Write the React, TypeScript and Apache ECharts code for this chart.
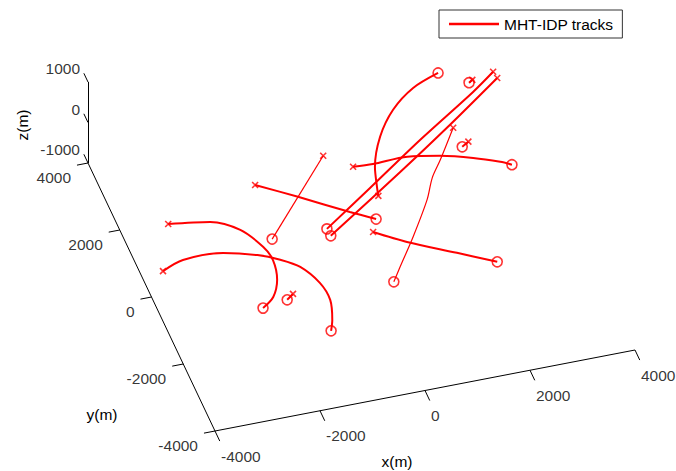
import React, { useEffect, useRef } from "react";
import * as echarts from "echarts";

// ---------- data ----------
const xTicks = [-4000, -2000, 0, 2000, 4000];
const yTicks = [-4000, -2000, 0, 2000, 4000];
const zTicks = [-1000, 0, 1000];
const xName = "x(m)";
const yName = "y(m)";
const zName = "z(m)";
const legendName = "MHT-IDP tracks";

type P3 = [number, number, number];
// tracks in metres [x, y, z], first point = start (x marker), last = end (o marker)
const track1: P3[] = [[-3440, 800, 0], [-2690, 635, 0], [-2230, 260, 0], [-1970, -330, 0], [-1910, -740, 0], [-2000, -1300, 0], [-2210, -1750, 0], [-2480, -2000, 0]];
const track2: P3[] = [[-3920, -460, 0], [-3480, -260, 0], [-2720, -280, 0], [-2140, -520, 0], [-1780, -770, 0], [-1490, -1070, 0], [-1280, -1610, 0], [-1240, -2130, 0], [-1370, -2690, 0], [-1480, -2980, 0]];
const track3: P3[] = [[-1840, -1770, 0], [-1990, -1900, 0]];
const track4: P3[] = [[-170, 1850, 0], [-1750, -160, 0]];
const track5: P3[] = [[-1600, 1410, 0], [-950, 860, 0], [-170, 170, 0], [230, -160, 0]];
const track6: P3[] = [[260, 1390, 0], [630, 1360, 0], [1290, 1380, 0], [1870, 1230, 0], [2430, 1000, 0], [2870, 750, 0], [3050, 610, 0]];
const track7: P3[] = [[460, 460, 0], [510, 710, 0], [640, 1270, 0], [980, 2070, 0], [1430, 2740, 0], [1960, 3230, 0], [2520, 3510, 0]];
const track8: P3[] = [[3490, 3250, 0], [2980, 2810, 0], [1650, 1770, 0], [380, 720, 0], [-710, -170, 0]];
const track9: P3[] = [[3510, 3060, 0], [2300, 2030, 0], [1040, 1000, 0], [-700, -380, 0]];
const track10: P3[] = [[3060, 3140, 0], [2980, 3080, 0]];
const track11: P3[] = [[2480, 1470, 0], [2330, 1360, 0]];
const track12: P3[] = [[2330, 1930, 0], [1840, 1120, 0], [1550, 670, 0], [1280, 100, 0], [730, -840, 0], [250, -1600, 0], [20, -1970, 0]];
const track13: P3[] = [[70, -500, 0], [580, -950, 0], [1360, -1510, 0], [1990, -1970, 0]];

const tracks = [track1, track2, track3, track4, track5, track6, track7, track8, track9, track10, track11, track12, track13];
const thinTracks = [3, 11];

// ---------- layout / projection ----------
const W = 676;
const H = 471;
const FONT = "'Liberation Sans', Arial, Helvetica, sans-serif";
const FS = 15.5;
const XMIN = -4000, XMAX = 4000, YMIN = -4000, YMAX = 4000, ZMIN = -1000, ZMAX = 1000;
const ORIGIN = [215, 431];
const EX = [420 / 8000, -81 / 8000];
const EY = [-127 / 8000, -268 / 8000];
const EZ = [0, -81 / 2000];

function proj(x: number, y: number, z: number): [number, number] {
  const a = x - XMIN, b = y - YMIN, c = z - ZMIN;
  return [
    ORIGIN[0] + EX[0] * a + EY[0] * b + EZ[0] * c,
    ORIGIN[1] + EX[1] * a + EY[1] * b + EZ[1] * c,
  ];
}

export default function App() {
  const ref = useRef<HTMLDivElement>(null);
  useEffect(() => {
    if (!ref.current) return;
    const chart = echarts.init(ref.current, undefined, { renderer: "svg" });

    const segments: [number, number][][] = [
      [proj(XMIN, YMIN, ZMIN), proj(XMAX, YMIN, ZMIN)],
      [proj(XMIN, YMIN, ZMIN), proj(XMIN, YMAX, ZMIN)],
      [proj(XMIN, YMAX, ZMIN), proj(XMIN, YMAX, ZMAX)],
      ...xTicks.map((t) => [proj(t, YMIN, ZMIN), proj(t, YMIN - 300, ZMIN)]),
      ...yTicks.map((t) => [proj(XMIN, t, ZMIN), proj(XMIN - 210, t, ZMIN)]),
      ...zTicks.map((t) => [proj(XMIN, YMAX, t), proj(XMIN, YMAX + 260, t)]),
    ];

    const labelSeries = (data: any[], offset: number[], align: string) => ({
      type: "scatter",
      silent: true,
      symbolSize: 1,
      itemStyle: { color: "transparent" },
      data,
      label: {
        show: true,
        position: "inside",
        offset,
        align,
        verticalAlign: "middle",
        formatter: (p: any) => p.value[2],
        fontSize: FS,
        fontFamily: FONT,
        color: "#000",
      },
      z: 5,
    });

    const trackSeries = tracks.map((t, i) => ({
      type: "line",
      name: legendName,
      data: t.map((p) => proj(p[0], p[1], p[2])),
      symbol: "none",
      smooth: 0.3,
      silent: true,
      lineStyle: { color: "#ff0000", width: thinTracks.includes(i) ? 1.2 : 2 },
      itemStyle: { color: "#ff0000" },
      z: 3,
    }));

    chart.setOption({
      animation: false,
      backgroundColor: "#fff",
      grid: { left: 0, top: 0, right: 0, bottom: 0 },
      xAxis: { type: "value", min: 0, max: W, show: false },
      yAxis: { type: "value", min: 0, max: H, inverse: true, show: false },
      legend: {
        data: [legendName],
        left: 439,
        top: 10,
        padding: [6, 9, 6, 10],
        itemWidth: 50,
        itemHeight: 14,
        itemGap: 5,
        icon: "path://M0 0H50V2.4H0Z",
        borderColor: "#333",
        borderWidth: 1,
        backgroundColor: "#fff",
        selectedMode: false,
        itemStyle: { color: "#ff0000" },
        textStyle: { fontSize: FS, fontFamily: FONT, color: "#000" },
      },
      series: [
        {
          type: "lines",
          coordinateSystem: "cartesian2d",
          silent: true,
          polyline: false,
          lineStyle: { color: "#000", width: 1, opacity: 1 },
          data: segments.map((s) => ({ coords: s })),
          z: 2,
        },
        labelSeries(xTicks.map((t) => [...proj(t, YMIN, ZMIN), String(t)]), [6, 25], "left"),
        labelSeries(yTicks.map((t) => [...proj(XMIN, t, ZMIN), String(t)]), [-17, 14], "right"),
        labelSeries(zTicks.map((t) => [...proj(XMIN, YMAX, t), String(t)]), [-8, -13.5], "right"),
        ...trackSeries,
        {
          type: "scatter",
          name: "start",
          silent: true,
          symbol: "path://M0 0L10 10M10 0L0 10",
          symbolSize: 6,
          itemStyle: { color: "transparent", borderColor: "#ff0000", borderWidth: 1.6 },
          data: tracks.map((t) => proj(t[0][0], t[0][1], t[0][2])),
          z: 4,
        },
        {
          type: "scatter",
          name: "end",
          silent: true,
          symbol: "circle",
          symbolSize: 10,
          itemStyle: { color: "transparent", borderColor: "#ff0000", borderWidth: 1.6 },
          data: tracks.map((t) => {
            const p = t[t.length - 1];
            return proj(p[0], p[1], p[2]);
          }),
          z: 4,
        },
      ],
      graphic: [
        {
          type: "text",
          x: 397,
          y: 461,
          style: { text: xName, align: "center", verticalAlign: "middle", textAlign: "center", textVerticalAlign: "middle", fontSize: FS, fontFamily: FONT, fill: "#000" },
        },
        {
          type: "text",
          x: 102,
          y: 414,
          style: { text: yName, align: "center", verticalAlign: "middle", textAlign: "center", textVerticalAlign: "middle", fontSize: FS, fontFamily: FONT, fill: "#000" },
        },
        {
          type: "text",
          x: 22,
          y: 125,
          rotation: Math.PI / 2,
          style: { text: zName, align: "center", verticalAlign: "middle", textAlign: "center", textVerticalAlign: "middle", fontSize: FS, fontFamily: FONT, fill: "#000" },
        },
      ],
    });
    return () => chart.dispose();
  }, []);

  return (
    <div
      ref={ref}
      style={{ position: "absolute", left: 0, top: 0, width: W, height: H }}
    />
  );
}
